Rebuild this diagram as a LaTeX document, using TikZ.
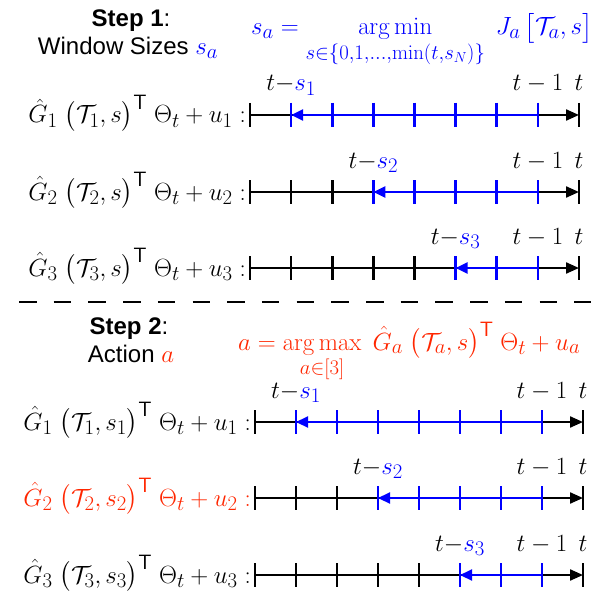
\documentclass[tikz,border=0pt]{standalone}
\usepackage{amsmath}
\usepackage[no-math]{fontspec}
\setmainfont{Liberation Serif}
\setsansfont{Liberation Sans}
\usetikzlibrary{positioning,arrows.meta}
\definecolor{winblue}{RGB}{0,0,255}
\definecolor{actred}{RGB}{255,38,0}

\begin{document}
\begin{tikzpicture}[x=1pt, y=-1pt,
    mathtext/.style={font=\fontsize{28}{32}\selectfont, inner sep=0pt},
    steptext/.style={font=\sffamily\fontsize{24}{28}\selectfont, inner sep=0pt},
    timeline/.style={line width=2.2pt, -{Triangle[length=13pt, width=11pt]}},
    window/.style={line width=2.2pt, winblue, -{Triangle[length=12pt, width=11pt]}},
    tickmark/.style={line width=2.6pt},
    separator/.style={line width=2.4pt, dash pattern=on 17.5pt off 17.2pt},
]
\useasboundingbox (0,0) rectangle (602,604);

% Step 1: window sizes
\node[steptext, anchor=base] (step1) at (131,27) {\textbf{Step 1}:};
\node[steptext, anchor=base] (sizes) at (128,55) {Window Sizes {\fontsize{28}{32}\selectfont$\color{winblue}s_a$}};
\node[mathtext, anchor=base west, text=winblue] (minrule) at (251,35)
    {$\displaystyle s_a = \operatorname*{arg\,min}_{s\in\{0,1,\dots,\min(t,s_N)\}}\; J_a\,\bigl[\mathcal{T}_a, s\bigr]$};

% Step 1 time lines
\foreach \rw/\yy/\k in {1/115/1, 2/192/3, 3/268/5} {
  \foreach \i in {0,...,8}
    \coordinate (p\rw-\i) at ({250+41.125*\i},\yy);
  \draw[timeline] (p\rw-0) -- (p\rw-8);
  \foreach \i in {0,...,8}
    \draw[tickmark] (p\rw-\i) ++(0,-12) -- ++(0,24);
  \foreach \i in {\k,...,7}
    \draw[tickmark, winblue] (p\rw-\i) ++(0,-12) -- ++(0,24);
  \draw[window] (p\rw-7) -- (p\rw-\k);
  \node[mathtext, anchor=base, yshift=24pt] (start\rw) at (p\rw-\k) {$t{-}{\color{winblue}s_{\rw}}$};
  \node[mathtext, anchor=base, yshift=24pt] (prev\rw) at (p\rw-7) {$t-1$};
  \node[mathtext, anchor=base, yshift=24pt] (now\rw) at (p\rw-8) {$t$};
  \node[mathtext, anchor=base east, xshift=-4pt, yshift=-8pt] (score\rw) at (p\rw-0)
    {$\hat{G}_{\rw}\;\bigl(\mathcal{T}_{\rw}, s\bigr)^{\mathsf{T}}\;\Theta_t + u_{\rw} :$};
}

% Separator
\coordinate (sepL) at (19,302);
\coordinate (sepR) at (591,302);
\draw[separator] (sepL) -- (sepR);

% Step 2: action
\node[steptext, anchor=base] (step2) at (129,334) {\textbf{Step 2}:};
\node[steptext, anchor=base] (action) at (131,362) {Action {\fontsize{28}{32}\selectfont$\color{actred}a$}};
\node[mathtext, anchor=base west, text=actred] (maxrule) at (238,350)
    {$\displaystyle a = \operatorname*{arg\,max}_{a\in[3]}\;\hat{G}_a\;\bigl(\mathcal{T}_a, s\bigr)^{\mathsf{T}}\;\Theta_t + u_a$};

% Step 2 time lines
\foreach \rw/\yy/\k/\lc in {1/422/1/black, 2/498/3/actred, 3/575/5/black} {
  \foreach \i in {0,...,8}
    \coordinate (q\rw-\i) at ({255+41*\i},\yy);
  \draw[timeline] (q\rw-0) -- (q\rw-8);
  \foreach \i in {0,...,8}
    \draw[tickmark] (q\rw-\i) ++(0,-12) -- ++(0,24);
  \foreach \i in {\k,...,7}
    \draw[tickmark, winblue] (q\rw-\i) ++(0,-12) -- ++(0,24);
  \draw[window] (q\rw-7) -- (q\rw-\k);
  \node[mathtext, anchor=base, yshift=24pt] (pick\rw) at (q\rw-\k) {$t{-}{\color{winblue}s_{\rw}}$};
  \node[mathtext, anchor=base, yshift=24pt] (last\rw) at (q\rw-7) {$t-1$};
  \node[mathtext, anchor=base, yshift=24pt] (cur\rw) at (q\rw-8) {$t$};
  \node[mathtext, anchor=base east, xshift=-4pt, yshift=-8pt, text=\lc] (value\rw) at (q\rw-0)
    {$\hat{G}_{\rw}\;\bigl(\mathcal{T}_{\rw}, s_{\rw}\bigr)^{\mathsf{T}}\;\Theta_t + u_{\rw} :$};
}

\end{tikzpicture}
\end{document}
